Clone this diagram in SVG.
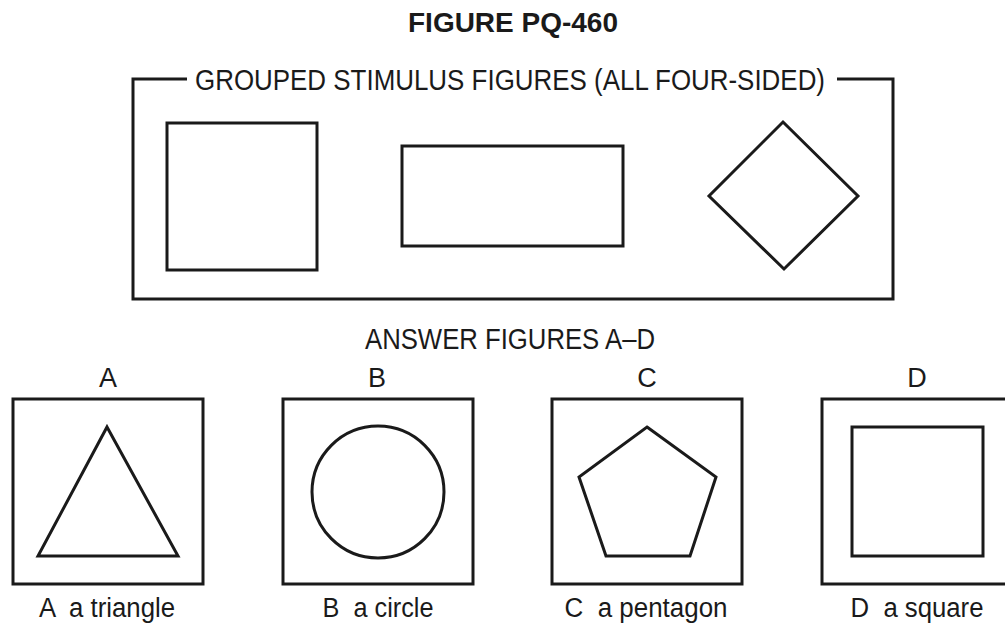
<svg xmlns="http://www.w3.org/2000/svg" width="1005" height="626" viewBox="0 0 1005 626">
<style>
.s{fill:none;stroke:#1a1a1a;stroke-width:3;stroke-linejoin:miter}
.t{font-family:"Liberation Sans",Arial,sans-serif;fill:#1a1a1a;white-space:pre}
.title{font-size:28px;font-weight:bold}
.hd{font-size:29px}
.lt{font-size:27px;text-anchor:middle}
</style>
<rect width="1005" height="626" fill="#fff"/>
<text class="t title" x="408" y="32" textLength="210" lengthAdjust="spacingAndGlyphs">FIGURE PQ-460</text>
<g id="stimulus-group">
<path class="s" d="M187,79 H133 V299 H893 V79 H837"/>
<text class="t hd" x="195" y="90" textLength="630" lengthAdjust="spacingAndGlyphs">GROUPED STIMULUS FIGURES (ALL FOUR-SIDED)</text>
</g>
<g id="stim-square"><rect class="s" x="167" y="123" width="150" height="147"/></g>
<g id="stim-rectangle"><rect class="s" x="402" y="146" width="221" height="100"/></g>
<g id="stim-diamond"><polygon class="s" points="783,122 858,196 784,269 709,196"/></g>
<text class="t hd" x="365" y="349" textLength="290" lengthAdjust="spacingAndGlyphs">ANSWER FIGURES A–D</text>
<g id="answer-a">
<text class="t lt" x="108" y="387">A</text>
<rect class="s" x="13" y="399" width="190" height="185"/>
<polygon class="s" points="107,427 178,556 38,556"/>
<text class="t lt" x="107" y="617" textLength="136" lengthAdjust="spacingAndGlyphs">A  a triangle</text>
</g>
<g id="answer-b">
<text class="t lt" x="377" y="387">B</text>
<rect class="s" x="283" y="399" width="190" height="185"/>
<circle class="s" cx="378" cy="492" r="66"/>
<text class="t lt" x="378" y="617" textLength="111" lengthAdjust="spacingAndGlyphs">B  a circle</text>
</g>
<g id="answer-c">
<text class="t lt" x="647" y="387">C</text>
<rect class="s" x="552" y="399" width="190" height="185"/>
<polygon class="s" points="647,427 716,477 690,556 606,556 579,477"/>
<text class="t lt" x="646" y="617" textLength="163" lengthAdjust="spacingAndGlyphs">C  a pentagon</text>
</g>
<g id="answer-d">
<text class="t lt" x="917" y="387">D</text>
<rect class="s" x="822" y="399" width="190" height="185"/>
<rect class="s" x="852" y="427" width="131" height="129"/>
<text class="t lt" x="917" y="617" textLength="133" lengthAdjust="spacingAndGlyphs">D  a square</text>
</g>
</svg>
